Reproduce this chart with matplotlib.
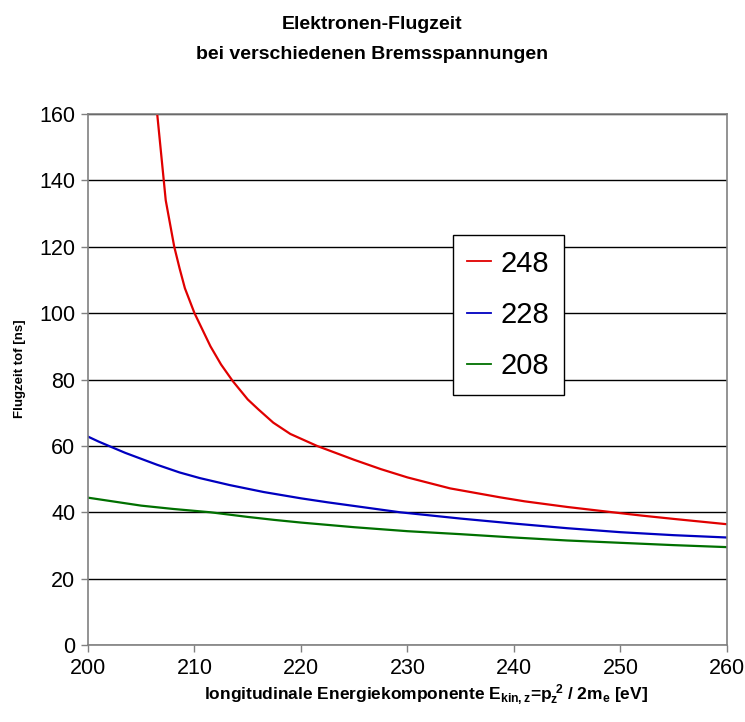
import numpy as np
import matplotlib
matplotlib.use("Agg")
import matplotlib.pyplot as plt

plt.rcParams['font.family'] = ['Liberation Sans', 'DejaVu Sans']
plt.rcParams['mathtext.fontset'] = 'custom'
plt.rcParams['mathtext.rm'] = 'Liberation Sans:bold'
plt.rcParams['mathtext.it'] = 'Liberation Sans:bold'
plt.rcParams['mathtext.bf'] = 'Liberation Sans:bold'

# Flugzeit (ns) ueber longitudinaler Energie (eV), je Bremsspannung
e_248 = [206.5, 207.3, 208.1, 208.6, 209.1, 210.0, 211.5, 212.5, 213.6, 215.0,
         216.0, 217.4, 219.0, 221.5, 223.0, 225.0, 227.5, 230.0, 234.0, 238.7,
         241.0, 245.0, 249.0, 252.0, 255.0, 260.0]
t_248 = [160.0, 134.0, 120.0, 113.5, 107.5, 100.0, 90.0, 84.5, 79.5, 74.0,
         71.0, 67.0, 63.6, 60.0, 58.2, 55.8, 53.0, 50.5, 47.2, 44.5,
         43.3, 41.6, 40.1, 39.0, 38.0, 36.4]

e_228 = [200.0, 201.0, 202.1, 203.5, 205.0, 206.5, 208.6, 210.5, 213.3, 216.5,
         220.0, 222.5, 225.0, 229.3, 235.0, 240.0, 245.0, 250.0, 255.0, 260.0]
t_228 = [62.8, 61.3, 59.8, 57.9, 56.1, 54.3, 52.0, 50.3, 48.2, 46.1,
         44.2, 43.0, 41.9, 40.0, 38.1, 36.6, 35.2, 34.0, 33.1, 32.4]

e_208 = [200.0, 202.5, 205.0, 208.0, 211.5, 215.0, 217.5, 220.0, 225.0, 230.0,
         235.0, 240.0, 245.0, 250.0, 255.0, 260.0]
t_208 = [44.4, 43.2, 42.0, 41.0, 40.0, 38.6, 37.7, 36.9, 35.5, 34.3,
         33.4, 32.4, 31.5, 30.8, 30.1, 29.5]

labels = ['248', '228', '208']
colors = ['#e00000', '#0000c0', '#007000']

fig = plt.figure(figsize=(7.45, 7.22), dpi=100)
ax = fig.add_axes([0.1181, 0.1066, 0.8577, 0.7355])

ax.plot(e_248, t_248, color=colors[0], lw=1.6, label=labels[0])
ax.plot(e_228, t_228, color=colors[1], lw=1.6, label=labels[1])
ax.plot(e_208, t_208, color=colors[2], lw=1.6, label=labels[2])

ax.set_xlim(200, 260)
ax.set_ylim(0, 160)
ax.set_xticks(np.arange(200, 261, 10))
ax.set_yticks(np.arange(0, 161, 20))
ax.yaxis.grid(True, color='black', lw=1)
ax.set_axisbelow(True)
for s in ax.spines.values():
    s.set_color('#808080')
    s.set_linewidth(1.2)
ax.tick_params(axis='both', direction='out', length=5, width=1,
               color='#808080', labelsize=15.5, pad=4)

fig.text(0.5, 0.966, 'Elektronen-Flugzeit', ha='center', va='center',
         fontsize=14, fontweight='bold')
fig.text(0.5, 0.925, 'bei verschiedenen Bremsspannungen', ha='center',
         va='center', fontsize=14, fontweight='bold')

xl = ax.set_xlabel(r'longitudinale Energiekomponente $E_{kin,z}$=$p_z^{\ 2}$ / 2m$_e$ [eV]',
                   fontsize=12.5, fontweight='bold')
xl.set_va('center')
ax.xaxis.set_label_coords(0.529, -0.094)
yl = ax.set_ylabel('Flugzeit tof [ns]', fontsize=9.5, fontweight='bold')
yl.set_va('center')
ax.yaxis.set_label_coords(-0.106, 0.52)

leg = ax.legend(loc='upper left', bbox_to_anchor=(0.571, 0.772), fontsize=21,
                handlelength=0.8, handletextpad=0.35, labelspacing=0.8,
                borderpad=0.5, borderaxespad=0, fancybox=False, framealpha=1)
leg.get_frame().set_edgecolor('black')
leg.get_frame().set_linewidth(1)
for h in leg.get_lines():
    h.set_linewidth(1.3)

fig.savefig('out.png', dpi=100)
